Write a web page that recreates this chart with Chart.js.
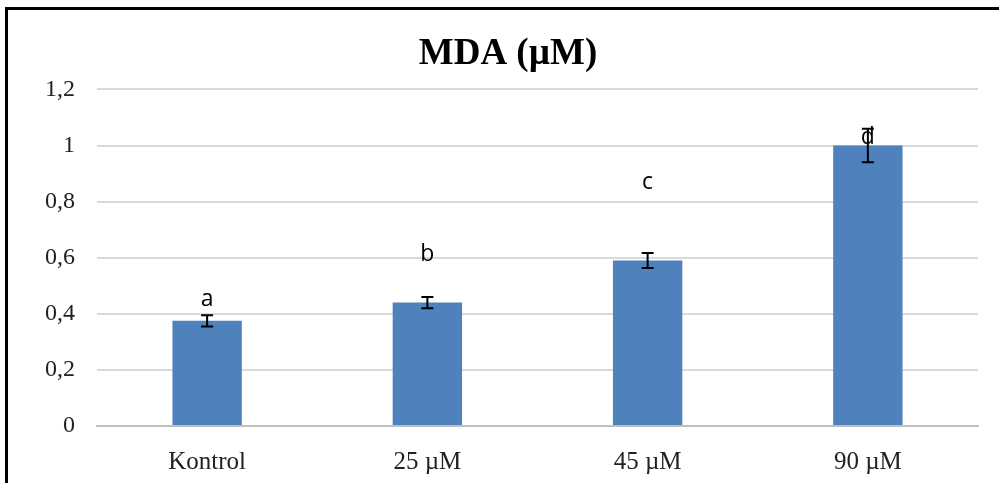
<!DOCTYPE html>
<html>
<head>
<meta charset="utf-8">
<script src="https://cdn.jsdelivr.net/npm/chart.js@4"></script>
<style>
  body { margin: 0; background: #fff; overflow: hidden; }
  #wrap { position: relative; width: 999px; height: 483px; overflow: hidden; }
  #frame { position: absolute; left: 5px; top: 7px; width: 1100px; height: 600px; border: 3px solid #000; box-sizing: border-box; }
  canvas { position: absolute; left: 0; top: 0; }
</style>
</head>
<body>
<div id="wrap">
  <div id="frame"></div>
  <canvas id="mdaChart" width="999" height="483"></canvas>
</div>
<script>
const categories = ['Kontrol', '25 µM', '45 µM', '90 µM'];
const mdaValues = [0.375, 0.44, 0.59, 1.0];
const mdaErrors = [0.02, 0.02, 0.027, 0.06];
const letters = ['a', 'b', 'c', 'd'];
const letterLevels = [0.45, 0.61, 0.87, 1.03];
const yTicks = [0, 0.2, 0.4, 0.6, 0.8, 1, 1.2];

const serif = '"Liberation Serif", "Times New Roman", serif';

const errorBars = {
    id: 'errorBars',
    afterDatasetsDraw(chart) {
        const ctx = chart.ctx;
        const meta = chart.getDatasetMeta(0);
        const y = chart.scales.y;
        ctx.save();
        ctx.strokeStyle = '#000';
        ctx.lineWidth = 2;
        meta.data.forEach((bar, i) => {
            const top = y.getPixelForValue(mdaValues[i] + mdaErrors[i]);
            const bot = y.getPixelForValue(mdaValues[i] - mdaErrors[i]);
            ctx.beginPath();
            ctx.moveTo(bar.x, top); ctx.lineTo(bar.x, bot);
            ctx.moveTo(bar.x - 6, top); ctx.lineTo(bar.x + 6, top);
            ctx.moveTo(bar.x - 6, bot); ctx.lineTo(bar.x + 6, bot);
            ctx.stroke();
        });
        // significance letters
        ctx.fillStyle = '#000';
        ctx.font = '23px "Open Sans", sans-serif';
        ctx.textAlign = 'center';
        ctx.textBaseline = 'middle';
        meta.data.forEach((bar, i) => {
            ctx.fillText(letters[i], bar.x, y.getPixelForValue(letterLevels[i]));
        });
        ctx.restore();
    }
};

const ctx = document.getElementById('mdaChart').getContext('2d');
new Chart(ctx, {
    type: 'bar',
    data: {
        labels: categories,
        datasets: [{
            data: mdaValues,
            backgroundColor: '#4f81bd',
            borderWidth: 0,
            barPercentage: 0.315,
            categoryPercentage: 1
        }]
    },
    options: {
        responsive: false,
        animation: false,
        layout: { padding: { left: 38, right: 21, top: 10, bottom: 0 } },
        plugins: {
            legend: { display: false },
            tooltip: { enabled: false },
            title: {
                display: true,
                text: 'MDA (µM)',
                color: '#000',
                font: { family: serif, size: 37, weight: 'bold' },
                padding: { top: 22, bottom: 13 }
            }
        },
        scales: {
            x: {
                afterFit(scale) { scale.height = 57; },
                grid: { display: false },
                border: { color: '#bfbfbf', width: 2 },
                ticks: {
                    color: '#222',
                    padding: 13,
                    font: { family: serif, size: 25 }
                }
            },
            y: {
                min: 0,
                max: 1.2,
                afterBuildTicks(scale) { scale.ticks = yTicks.map(v => ({ value: v })); },
                afterFit(scale) { scale.width = 59; },
                grid: { color: '#d9d9d9', lineWidth: 2, drawTicks: false },
                border: { display: false },
                ticks: {
                    color: '#222',
                    padding: 22,
                    font: { family: serif, size: 24 },
                    callback: v => String(v).replace('.', ',')
                }
            }
        }
    },
    plugins: [errorBars]
});
</script>
</body>
</html>
